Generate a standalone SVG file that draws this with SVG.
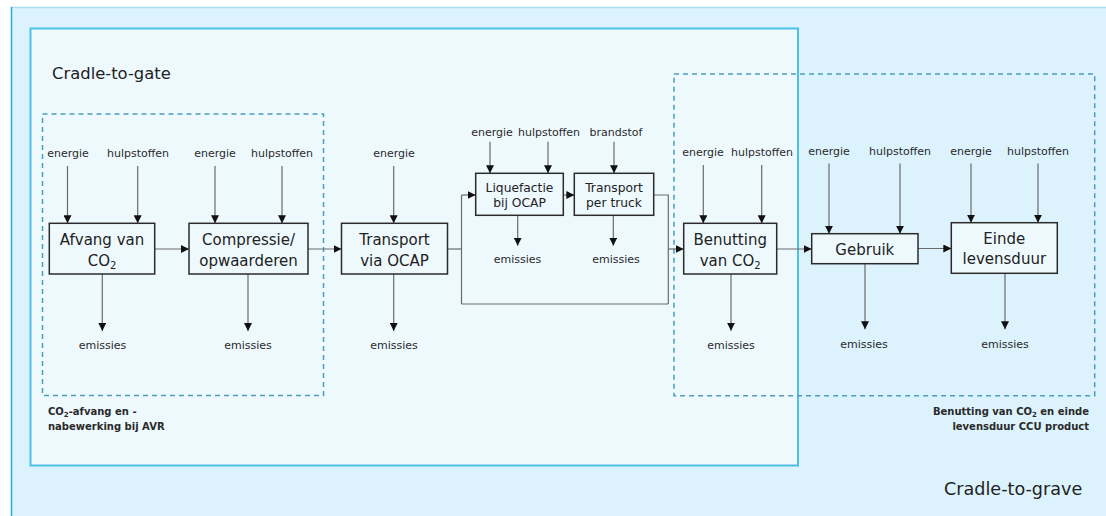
<svg xmlns="http://www.w3.org/2000/svg" width="1106" height="516" viewBox="0 0 1106 516">
<defs>
<marker id="ah" markerUnits="userSpaceOnUse" markerWidth="8" markerHeight="8" refX="8" refY="4" orient="auto">
<path d="M0,0 L8,4 L0,8 z" fill="#111"/>
</marker>
<style>
.node{fill:#eef9fe;stroke:#2b2b2b;stroke-width:1.5}
.nt{font-family:"DejaVu Sans",Verdana,sans-serif;font-size:15px;fill:#222;text-anchor:middle}
.nts{font-family:"DejaVu Sans",Verdana,sans-serif;font-size:12.3px;fill:#222;text-anchor:middle}
.lbl{font-family:"DejaVu Sans",Verdana,sans-serif;font-size:11px;fill:#2a2a2a;text-anchor:middle}
.reg{font-family:"DejaVu Sans",Verdana,sans-serif;font-size:10px;font-weight:bold;fill:#2a2a2a}
.title{font-family:"DejaVu Sans",Verdana,sans-serif;fill:#222}
.dash{fill:none;stroke:#4d9cbb;stroke-width:1.5;stroke-dasharray:5,4}
.c{fill:none;stroke:#6a6a6a;stroke-width:1.2}
.ca{fill:none;stroke:#6a6a6a;stroke-width:1.2;marker-end:url(#ah)}
</style>
</defs>

<g id="background">
<rect x="0" y="0" width="1106" height="516" fill="#ffffff"/>
<rect x="11.5" y="7" width="1100" height="520" fill="#dcf3fd"/>
<line x1="11.5" y1="7.5" x2="1106" y2="7.5" stroke="#a9ddf0" stroke-width="1.5"/>
<line x1="11.5" y1="7" x2="11.5" y2="516" stroke="#2ba8dc" stroke-width="1.5"/>
<text class="title" x="944" y="495" font-size="17.6">Cradle-to-grave</text>
</g>

<g id="cradle-to-gate">
<rect x="30.5" y="28.5" width="767.5" height="437" fill="#eef9fe" stroke="#4dbfe8" stroke-width="2"/>
<text class="title" x="52" y="78.5" font-size="16.4">Cradle-to-gate</text>
</g>

<g id="region-avr">
<rect class="dash" x="42.5" y="114" width="281" height="281.5"/>
<text class="reg" x="48" y="415">CO<tspan font-size="7" dy="2">2</tspan><tspan dy="-2">-afvang en -</tspan></text>
<text class="reg" x="48" y="430">nabewerking bij AVR</text>
</g>

<g id="region-ccu">
<rect class="dash" x="674" y="74" width="420.7" height="321.7"/>
<text class="reg" x="1089" y="415" text-anchor="end">Benutting van CO<tspan font-size="7" dy="2">2</tspan><tspan dy="-2"> en einde</tspan></text>
<text class="reg" x="1089" y="429.5" text-anchor="end">levensduur CCU product</text>
</g>

<g id="connectors">
<!-- main flow -->
<line class="ca" x1="155" y1="249" x2="189" y2="249"/>
<line class="ca" x1="308" y1="249" x2="341.5" y2="249"/>
<polyline class="c" points="447.5,249 461.5,249"/>
<line class="c" x1="461.5" y1="195" x2="461.5" y2="304"/>
<line class="ca" x1="461.5" y1="195" x2="475.7" y2="195"/>
<line class="c" x1="461.5" y1="304" x2="668.3" y2="304"/>
<line class="ca" x1="563.3" y1="195" x2="574.3" y2="195"/>
<polyline class="c" points="653.7,195 668.3,195 668.3,304"/>
<line class="ca" x1="668.3" y1="249" x2="683.7" y2="249"/>
<line class="ca" x1="776.7" y1="249" x2="811.7" y2="249"/>
<line class="ca" x1="918" y1="248.5" x2="951.3" y2="248.5"/>
<!-- inputs -->
<line class="ca" x1="67.5" y1="166" x2="67.5" y2="223.3"/>
<line class="ca" x1="137.7" y1="166" x2="137.7" y2="223.3"/>
<line class="ca" x1="215" y1="166" x2="215" y2="223.3"/>
<line class="ca" x1="282" y1="166" x2="282" y2="223.3"/>
<line class="ca" x1="393.7" y1="166" x2="393.7" y2="223.3"/>
<line class="ca" x1="490" y1="141.7" x2="490" y2="173.3"/>
<line class="ca" x1="548" y1="141.7" x2="548" y2="173.3"/>
<line class="ca" x1="614" y1="141.7" x2="614" y2="173.3"/>
<line class="ca" x1="703.3" y1="165" x2="703.3" y2="223.3"/>
<line class="ca" x1="761.7" y1="165" x2="761.7" y2="223.3"/>
<line class="ca" x1="829" y1="163.5" x2="829" y2="233.7"/>
<line class="ca" x1="900" y1="163.5" x2="900" y2="233.7"/>
<line class="ca" x1="971" y1="163.5" x2="971" y2="222.7"/>
<line class="ca" x1="1038" y1="163.5" x2="1038" y2="222.7"/>
<!-- emissions -->
<line class="ca" x1="102.3" y1="274" x2="102.3" y2="331"/>
<line class="ca" x1="248" y1="274" x2="248" y2="331"/>
<line class="ca" x1="393.7" y1="274" x2="393.7" y2="331"/>
<line class="ca" x1="517.7" y1="215.3" x2="517.7" y2="245.7"/>
<line class="ca" x1="613.3" y1="215.3" x2="613.3" y2="245.7"/>
<line class="ca" x1="731" y1="274" x2="731" y2="330.7"/>
<line class="ca" x1="865" y1="263.7" x2="865" y2="329.3"/>
<line class="ca" x1="1005" y1="273.3" x2="1005" y2="329.3"/>
</g>

<g id="labels">
<text class="lbl" x="68" y="156.5">energie</text>
<text class="lbl" x="138" y="156.5">hulpstoffen</text>
<text class="lbl" x="215" y="157">energie</text>
<text class="lbl" x="282" y="157">hulpstoffen</text>
<text class="lbl" x="394" y="156.5">energie</text>
<text class="lbl" x="492" y="136">energie</text>
<text class="lbl" x="549" y="136">hulpstoffen</text>
<text class="lbl" x="616" y="136">brandstof</text>
<text class="lbl" x="703" y="156">energie</text>
<text class="lbl" x="762" y="156">hulpstoffen</text>
<text class="lbl" x="829" y="155">energie</text>
<text class="lbl" x="900" y="155">hulpstoffen</text>
<text class="lbl" x="971" y="154.5">energie</text>
<text class="lbl" x="1038" y="155">hulpstoffen</text>
<text class="lbl" x="102.5" y="349">emissies</text>
<text class="lbl" x="248" y="349">emissies</text>
<text class="lbl" x="394" y="349">emissies</text>
<text class="lbl" x="517.5" y="263">emissies</text>
<text class="lbl" x="616" y="263">emissies</text>
<text class="lbl" x="731" y="348.5">emissies</text>
<text class="lbl" x="864" y="347.5">emissies</text>
<text class="lbl" x="1005" y="347.5">emissies</text>
</g>

<g id="node-afvang">
<rect class="node" x="49.3" y="223.3" width="105.4" height="50.7"/>
<text class="nt" x="102" y="245">Afvang van</text>
<text class="nt" x="102" y="265.5">CO<tspan font-size="10" dy="3">2</tspan></text>
</g>
<g id="node-compressie">
<rect class="node" x="189" y="223.3" width="119" height="50.7"/>
<text class="nt" x="248.5" y="245">Compressie/</text>
<text class="nt" x="248.5" y="265.5">opwaarderen</text>
</g>
<g id="node-transport-ocap">
<rect class="node" x="341.5" y="223.3" width="106" height="50.7"/>
<text class="nt" x="394.5" y="245">Transport</text>
<text class="nt" x="394.5" y="266">via OCAP</text>
</g>
<g id="node-liquefactie">
<rect class="node" x="475.7" y="173.3" width="87.6" height="42"/>
<text class="nts" x="519.5" y="191.7">Liquefactie</text>
<text class="nts" x="519.5" y="206.7">bij OCAP</text>
</g>
<g id="node-transport-truck">
<rect class="node" x="574.3" y="173.3" width="79.4" height="42"/>
<text class="nts" x="614" y="191.7">Transport</text>
<text class="nts" x="614" y="206.7">per truck</text>
</g>
<g id="node-benutting">
<rect class="node" x="683.7" y="223.3" width="93" height="50.7"/>
<text class="nt" x="730.2" y="245">Benutting</text>
<text class="nt" x="730.2" y="266">van CO<tspan font-size="10" dy="3">2</tspan></text>
</g>
<g id="node-gebruik">
<rect class="node" x="811.7" y="233.7" width="106.3" height="30"/>
<text class="nt" x="864.8" y="254.5">Gebruik</text>
</g>
<g id="node-einde">
<rect class="node" x="951.3" y="222.7" width="106" height="50.6"/>
<text class="nt" x="1004.3" y="244">Einde</text>
<text class="nt" x="1004.3" y="264">levensduur</text>
</g>
</svg>
